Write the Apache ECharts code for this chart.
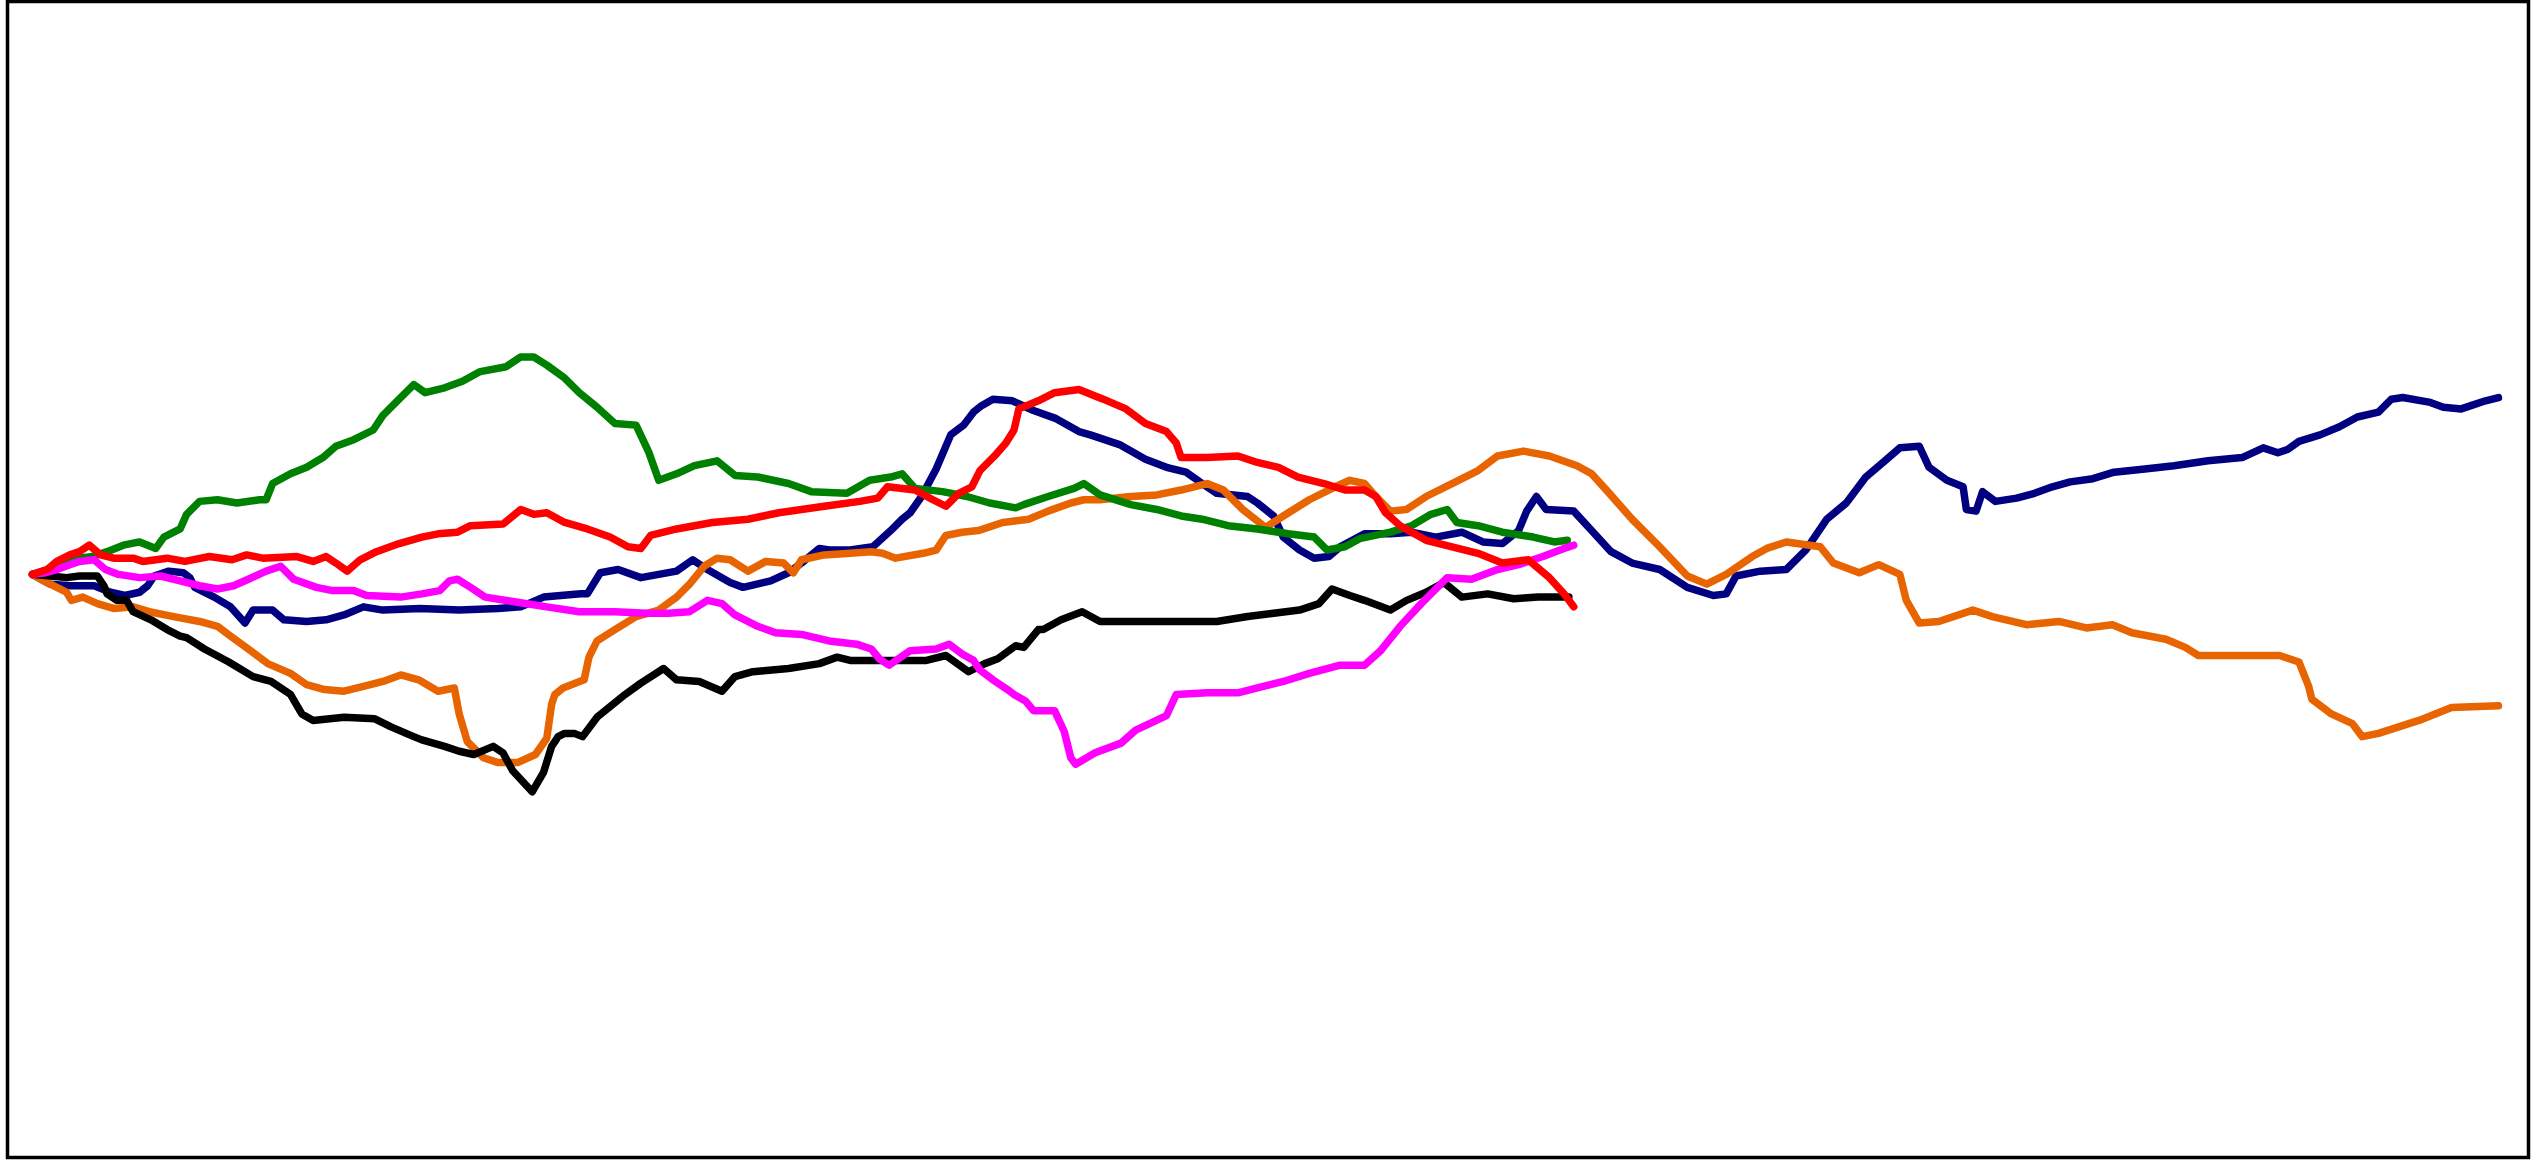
<!DOCTYPE html>
<html>
<head>
<meta charset="utf-8">
<script src="https://cdn.jsdelivr.net/npm/echarts@6/dist/echarts.min.js"></script>
<style>
html,body{margin:0;padding:0;background:#fff;}
#chart{width:2544px;height:1174px;}
</style>
</head>
<body>
<div id="chart"></div>
<script>
// [step, value] pairs
const navy = [[0,0],[11,-6],[23,-7],[38,-7],[48,-11],[57,-13],[66,-11],[71,-7],[75,-1],[84,2],[93,1],[97,-2],[100,-8],[112,-14],[122,-20],[131,-30],[136,-22],[148,-22],[155,-28],[169,-29],[181,-28],[192,-25],[204,-20],[216,-22],[239,-21],[263,-22],[287,-21],[301,-20],[315,-14],[338,-12],[342,-12],[350,1],[361,3],[375,-2],[397,2],[407,9],[416,3],[430,-5],[438,-8],[455,-4],[466,1],[474,7],[485,16],[491,15],[504,15],[518,17],[529,27],[536,34],[541,38],[548,48],[557,65],[566,86],[574,92],[580,100],[585,104],[592,108],[604,107],[617,101],[631,96],[645,88],[652,86],[670,80],[686,71],[699,66],[711,63],[721,56],[730,50],[749,48],[755,44],[765,36],[771,23],[781,15],[790,10],[799,11],[806,17],[821,25],[837,25],[850,26],[865,23],[881,26],[894,20],[906,19],[916,27],[921,39],[927,48],[933,40],[950,39],[961,27],[973,14],[986,7],[1003,3],[1020,-8],[1036,-13],[1044,-12],[1050,-1],[1065,2],[1081,3],[1093,15],[1106,34],[1118,44],[1130,60],[1143,71],[1151,78],[1163,79],[1169,66],[1180,58],[1190,54],[1192,40],[1198,39],[1202,51],[1210,45],[1223,47],[1234,50],[1245,54],[1256,57],[1270,59],[1283,63],[1302,65],[1320,67],[1341,70],[1362,72],[1375,78],[1384,75],[1390,77],[1397,82],[1410,86],[1422,91],[1433,97],[1446,100],[1454,108],[1461,109],[1478,106],[1486,103],[1497,102],[1503,104],[1512,107],[1520,109]];

const orange = [[0,0],[7,-4],[15,-8],[21,-11],[24,-16],[31,-14],[40,-18],[50,-21],[62,-20],[72,-23],[87,-26],[103,-29],[114,-32],[122,-38],[133,-46],[145,-55],[159,-61],[169,-68],[180,-71],[192,-72],[204,-69],[216,-66],[227,-62],[238,-65],[250,-72],[260,-70],[263,-86],[268,-103],[278,-113],[287,-116],[299,-116],[310,-111],[317,-101],[320,-80],[322,-74],[327,-70],[340,-65],[343,-51],[348,-41],[359,-34],[372,-26],[386,-22],[397,-14],[405,-6],[414,5],[422,10],[430,9],[441,2],[452,8],[463,7],[469,1],[474,9],[488,12],[504,13],[517,14],[524,13],[532,10],[549,13],[557,15],[563,24],[573,26],[583,27],[598,32],[614,34],[626,39],[640,44],[648,46],[658,46],[677,48],[693,49],[708,52],[724,56],[734,52],[746,40],[760,29],[771,36],[787,46],[803,54],[812,58],[821,56],[828,48],[837,39],[847,40],[859,48],[875,56],[891,64],[903,73],[919,76],[935,73],[952,67],[961,62],[971,51],[986,34],[1003,17],[1020,-1],[1032,-6],[1044,0],[1060,11],[1069,16],[1081,20],[1102,17],[1110,7],[1126,1],[1138,6],[1151,0],[1155,-16],[1163,-30],[1175,-29],[1196,-22],[1208,-26],[1229,-31],[1249,-29],[1266,-33],[1282,-31],[1294,-36],[1315,-40],[1327,-45],[1335,-50],[1356,-50],[1385,-50],[1397,-54],[1403,-69],[1405,-77],[1417,-86],[1430,-92],[1436,-100],[1446,-98],[1471,-90],[1491,-82],[1520,-81]];

const green = [[0,0],[10,3],[22,8],[29,10],[37,11],[46,14],[56,18],[66,20],[76,16],[81,23],[91,28],[95,37],[103,45],[114,46],[126,44],[140,46],[144,46],[148,56],[159,62],[169,66],[179,72],[187,79],[198,83],[210,89],[216,98],[226,108],[235,117],[242,112],[254,115],[265,119],[276,125],[292,128],[301,134],[309,134],[317,129],[328,121],[337,112],[348,103],[359,93],[372,92],[380,75],[386,58],[397,62],[408,67],[422,70],[433,61],[447,60],[466,56],[480,51],[502,50],[516,58],[529,60],[536,62],[544,53],[561,51],[576,48],[590,44],[606,41],[611,43],[626,48],[642,53],[648,56],[658,49],[677,43],[693,40],[708,36],[721,34],[737,30],[755,28],[774,25],[790,23],[798,15],[809,17],[818,22],[837,26],[850,30],[862,37],[872,40],[878,32],[891,30],[906,26],[925,23],[938,20],[946,21]];

const red = [[0,0],[9,3],[15,8],[23,12],[29,14],[35,18],[42,12],[50,10],[62,10],[68,8],[83,10],[94,8],[109,11],[123,9],[132,12],[142,10],[163,11],[173,8],[181,11],[187,7],[194,2],[202,9],[212,14],[226,19],[240,23],[250,25],[262,26],[270,30],[290,31],[301,40],[309,37],[317,38],[328,32],[342,28],[356,23],[367,17],[375,16],[381,24],[397,28],[419,32],[441,34],[460,38],[488,42],[510,45],[521,47],[527,54],[544,52],[555,46],[563,42],[571,50],[579,54],[584,64],[593,73],[600,81],[605,89],[608,102],[620,107],[630,112],[645,114],[660,108],[674,102],[686,93],[699,88],[705,81],[708,72],[724,72],[743,73],[755,69],[768,66],[780,60],[796,56],[809,52],[821,52],[828,48],[834,38],[843,30],[859,21],[875,17],[891,13],[906,7],[922,9],[935,-2],[944,-12],[950,-20]];

const magenta = [[0,0],[8,1],[15,3],[23,6],[29,8],[38,9],[45,3],[53,0],[66,-2],[79,-1],[91,-4],[103,-7],[114,-9],[124,-7],[133,-3],[144,2],[153,5],[161,-3],[175,-8],[185,-10],[198,-10],[206,-13],[227,-14],[240,-12],[251,-10],[257,-4],[262,-3],[270,-8],[279,-14],[298,-17],[317,-20],[337,-23],[359,-23],[378,-24],[392,-24],[405,-23],[416,-16],[425,-18],[433,-25],[447,-32],[458,-36],[474,-37],[491,-41],[508,-43],[517,-46],[522,-52],[528,-56],[541,-47],[557,-46],[565,-43],[573,-49],[580,-53],[584,-59],[592,-65],[601,-71],[605,-74],[612,-78],[617,-84],[630,-84],[636,-97],[640,-113],[643,-117],[655,-110],[671,-104],[680,-96],[699,-87],[705,-74],[724,-73],[743,-73],[755,-70],[771,-66],[787,-61],[806,-56],[821,-56],[831,-47],[843,-32],[856,-18],[872,-2],[887,-3],[903,3],[916,6],[931,11],[944,16],[950,18]];

const black = [[0,0],[11,-1],[21,-2],[29,-1],[40,-1],[44,-7],[46,-12],[52,-16],[58,-16],[62,-23],[73,-28],[83,-34],[91,-38],[95,-39],[106,-46],[121,-54],[136,-63],[147,-66],[159,-74],[166,-86],[173,-90],[192,-88],[211,-89],[221,-94],[235,-100],[240,-102],[254,-106],[263,-109],[272,-111],[284,-106],[290,-110],[296,-121],[308,-134],[315,-122],[320,-106],[324,-100],[328,-98],[334,-98],[339,-100],[348,-88],[364,-75],[375,-67],[389,-58],[397,-65],[411,-66],[425,-72],[433,-63],[444,-60],[466,-58],[485,-55],[496,-51],[504,-53],[515,-53],[551,-53],[563,-50],[577,-60],[587,-55],[595,-52],[606,-44],[611,-45],[620,-34],[623,-34],[634,-28],[647,-23],[658,-29],[677,-29],[730,-29],[749,-26],[765,-24],[781,-22],[793,-18],[801,-9],[812,-13],[821,-16],[837,-22],[847,-16],[859,-11],[870,-5],[881,-14],[897,-12],[913,-15],[928,-14],[947,-14]];

const seriesDefs = [
  {name: 'navy', data: navy, color: '#000080'},
  {name: 'orange', data: orange, color: '#e86400'},
  {name: 'black', data: black, color: '#000000'},
  {name: 'green', data: green, color: '#008000'},
  {name: 'magenta', data: magenta, color: '#ff00ff'},
  {name: 'red', data: red, color: '#ff0000'}
];

const chart = echarts.init(document.getElementById('chart'), null, {renderer: 'canvas'});
chart.setOption({
  animation: false,
  backgroundColor: '#ffffff',
  grid: {
    left: 7.5, top: 1.5, width: 2521, height: 1156,
    show: true, borderColor: '#000000', borderWidth: 3.5, backgroundColor: 'transparent'
  },
  xAxis: {
    type: 'value', min: -15.4, max: 1538.5,
    axisLine: {show: false}, axisTick: {show: false}, axisLabel: {show: false}, splitLine: {show: false}
  },
  yAxis: {
    type: 'value', min: -359.4, max: 353.1,
    axisLine: {show: false}, axisTick: {show: false}, axisLabel: {show: false}, splitLine: {show: false}
  },
  series: seriesDefs.map(s => ({
    name: s.name,
    type: 'line',
    data: s.data,
    showSymbol: false,
    symbol: 'none',
    silent: true,
    lineStyle: {color: s.color, width: 7.5, join: 'round', cap: 'round'},
    itemStyle: {color: s.color}
  }))
});
</script>
</body>
</html>
